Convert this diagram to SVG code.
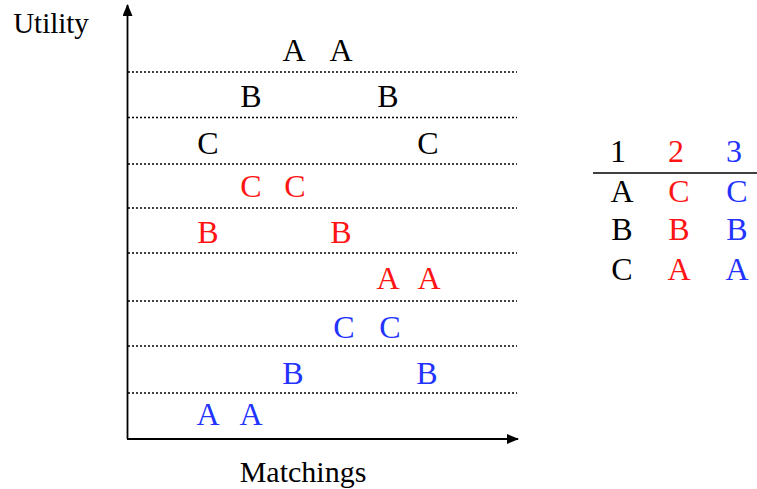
<svg xmlns="http://www.w3.org/2000/svg" width="757" height="489" viewBox="0 0 757 489">
<defs>
<marker id="arr" viewBox="0 0 12 10" refX="11" refY="5" markerWidth="12" markerHeight="10" markerUnits="userSpaceOnUse" orient="auto">
<path d="M0,0 L12,5 L0,10 Z" fill="#000"/>
</marker>
<style>
.dot{stroke:#000;stroke-width:1.3;stroke-dasharray:2 2;fill:none}
.ax{stroke:#000;stroke-width:1.8;fill:none}
</style>
</defs>
<rect width="757" height="489" fill="#fff"/>
<g id="connectors">
<line class="ax" x1="127.5" y1="439" x2="127.5" y2="5" marker-end="url(#arr)"/>
<line class="ax" x1="127" y1="439" x2="518" y2="439" marker-end="url(#arr)"/>
</g>
<g id="gridlines">
<line class="dot" x1="128" y1="72" x2="517" y2="72"/>
<line class="dot" x1="128" y1="117.5" x2="517" y2="117.5"/>
<line class="dot" x1="128" y1="164" x2="517" y2="164"/>
<line class="dot" x1="128" y1="208" x2="517" y2="208"/>
<line class="dot" x1="128" y1="253" x2="517" y2="253"/>
<line class="dot" x1="128" y1="301" x2="517" y2="301"/>
<line class="dot" x1="128" y1="346" x2="517" y2="346"/>
<line class="dot" x1="128" y1="393" x2="517" y2="393"/>
</g>
<g id="axis-labels" font-family="Liberation Serif, serif" fill="#000" text-anchor="middle">
<text x="51" y="33" font-size="29">Utility</text>
<text x="303" y="482" font-size="30">Matchings</text>
</g>
<g id="row1" font-family="Liberation Serif, serif" font-size="32" text-anchor="middle" fill="#000"><text x="294" y="61">A</text><text x="341" y="61">A</text></g>
<g id="row2" font-family="Liberation Serif, serif" font-size="32" text-anchor="middle" fill="#000"><text x="251" y="107">B</text><text x="388" y="107">B</text></g>
<g id="row3" font-family="Liberation Serif, serif" font-size="32" text-anchor="middle" fill="#000"><text x="208" y="154">C</text><text x="428" y="154">C</text></g>
<g id="row4" font-family="Liberation Serif, serif" font-size="32" text-anchor="middle" fill="#ff1414"><text x="251" y="197">C</text><text x="295" y="197">C</text></g>
<g id="row5" font-family="Liberation Serif, serif" font-size="32" text-anchor="middle" fill="#ff1414"><text x="208" y="243">B</text><text x="341" y="243">B</text></g>
<g id="row6" font-family="Liberation Serif, serif" font-size="32" text-anchor="middle" fill="#ff1414"><text x="388" y="289">A</text><text x="429" y="289">A</text></g>
<g id="row7" font-family="Liberation Serif, serif" font-size="32" text-anchor="middle" fill="#2233ff"><text x="344" y="338">C</text><text x="390" y="338">C</text></g>
<g id="row8" font-family="Liberation Serif, serif" font-size="32" text-anchor="middle" fill="#2233ff"><text x="293" y="384">B</text><text x="427" y="384">B</text></g>
<g id="row9" font-family="Liberation Serif, serif" font-size="32" text-anchor="middle" fill="#2233ff"><text x="208" y="425">A</text><text x="251" y="425">A</text></g>
<g id="table" font-family="Liberation Serif, serif" font-size="32" text-anchor="middle">
<text x="618" y="162" fill="#000">1</text>
<text x="676" y="162" fill="#ff1414">2</text>
<text x="734" y="162" fill="#2233ff">3</text>
<line x1="593" y1="173" x2="757" y2="173" stroke="#000" stroke-width="1.3"/>
<text x="622" y="202" fill="#000">A</text><text x="679" y="202" fill="#ff1414">C</text><text x="737" y="202" fill="#2233ff">C</text>
<text x="622" y="240" fill="#000">B</text><text x="679" y="240" fill="#ff1414">B</text><text x="737" y="240" fill="#2233ff">B</text>
<text x="622" y="280" fill="#000">C</text><text x="679" y="280" fill="#ff1414">A</text><text x="737" y="280" fill="#2233ff">A</text>
</g>
</svg>
